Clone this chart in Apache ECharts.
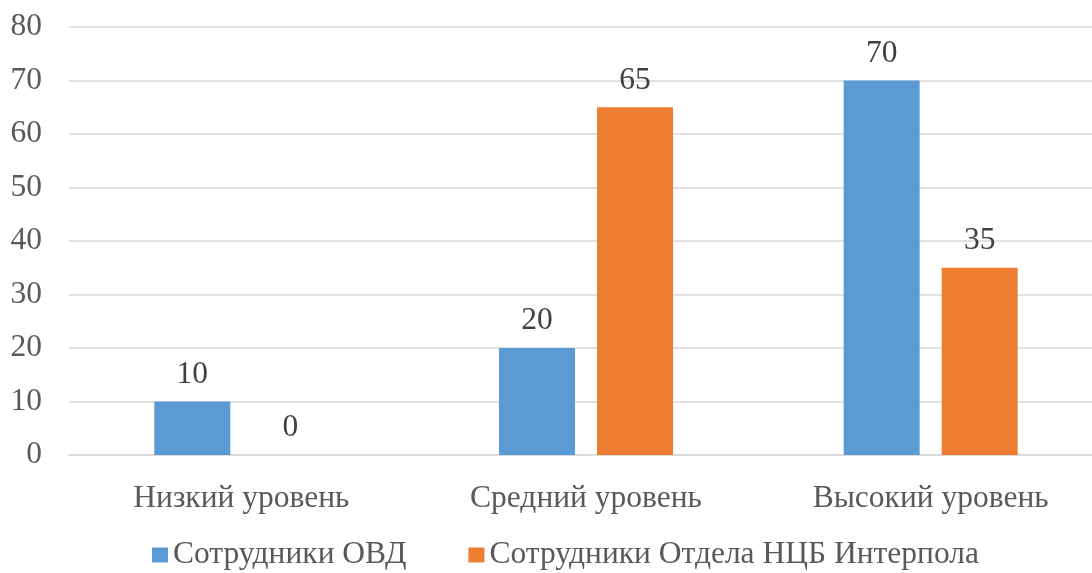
<!DOCTYPE html>
<html>
<head>
<meta charset="utf-8">
<script src="https://cdn.jsdelivr.net/npm/echarts@6/dist/echarts.min.js"></script>
<style>html,body{margin:0;padding:0;background:#fff;}#c{width:1092px;height:573px;}</style>
</head>
<body>
<div id="c"></div>
<script>
var categories = ['Низкий уровень', 'Средний уровень', 'Высокий уровень'];
var seriesNames = ['Сотрудники ОВД', 'Сотрудники Отдела НЦБ Интерпола'];
var ovdValues = [10, 20, 70];
var interpolValues = [0, 65, 35];

var font = '"Liberation Serif", "Times New Roman", serif';
var textColor = '#595959';
var chart = echarts.init(document.getElementById('c'), null, {renderer: 'canvas'});
chart.setOption({
  animation: false,
  backgroundColor: '#ffffff',
  grid: {left: 69, top: 27, bottom: 118, right: -11, containLabel: false, outerBoundsMode: 'none'},
  legend: {
    data: seriesNames,
    left: 147, top: 534,
    itemWidth: 16, itemHeight: 15, itemGap: 62,
    icon: 'rect',
    textStyle: {fontFamily: font, fontSize: 31.5, lineHeight: 32, color: textColor}
  },
  xAxis: {
    type: 'category',
    data: categories,
    axisLine: {show: true, lineStyle: {color: '#D9D9D9', width: 1.5}},
    axisTick: {show: false},
    axisLabel: {fontFamily: font, fontSize: 31.5, color: textColor, margin: 28}
  },
  yAxis: {
    type: 'value', min: 0, max: 80, interval: 10,
    axisLine: {show: false}, axisTick: {show: false},
    splitLine: {lineStyle: {color: '#D9D9D9', width: 1.5}},
    axisLabel: {fontFamily: font, fontSize: 31.5, color: textColor, margin: 27}
  },
  series: [
    {
      name: seriesNames[0], type: 'bar', data: ovdValues,
      barWidth: 76, barGap: '29%',
      itemStyle: {color: '#5B9BD5'},
      label: {show: true, position: 'top', distance: 11, fontFamily: font, fontSize: 31.5, color: '#404040'}
    },
    {
      name: seriesNames[1], type: 'bar', data: interpolValues,
      barWidth: 76, barGap: '29%',
      itemStyle: {color: '#ED7D31'},
      label: {show: true, position: 'top', distance: 11, fontFamily: font, fontSize: 31.5, color: '#404040'}
    }
  ]
});
</script>
</body>
</html>
